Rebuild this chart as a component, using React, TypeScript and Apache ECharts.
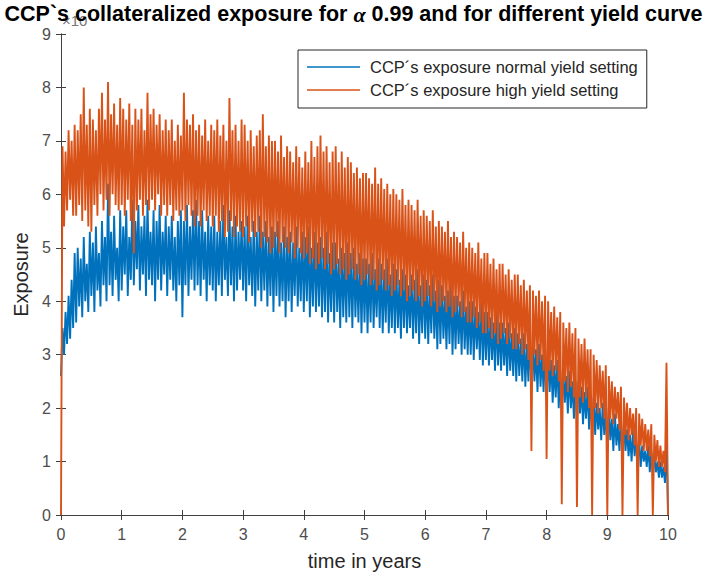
import React, { useEffect, useRef } from "react";
import * as echarts from "echarts";

// Sampling step of the simulation grid (years)
const timeStep = 0.025;

// CCP's exposure, normal yield setting (values shown in units of the ×10 exponent)
const normalExposure = [
  2.6, 3.5, 3.0, 3.8, 3.2, 4.1, 3.3, 4.4, 3.5, 4.9,
  3.6, 5.0, 3.9, 4.8, 3.7, 5.2, 4.0, 4.7, 3.8, 5.3,
  4.1, 5.1, 3.8, 5.4, 4.2, 4.9, 3.9, 5.5, 4.3, 5.2,
  4.0, 6.2, 4.3, 5.3, 4.1, 5.6, 4.4, 5.0, 4.0, 5.7,
  4.2, 5.4, 4.5, 5.7, 4.1, 5.2, 4.4, 5.9, 4.3, 5.5,
  4.6, 5.8, 4.2, 5.4, 4.5, 5.6, 4.1, 5.9, 4.4, 5.3,
  4.3, 5.7, 4.0, 5.5, 4.4, 5.8, 4.2, 5.3, 4.5, 5.6,
  4.1, 5.4, 4.4, 5.6, 4.2, 5.2, 4.0, 5.5, 4.3, 5.7,
  3.7, 5.5, 4.3, 5.8, 4.1, 5.4, 4.4, 5.7, 4.2, 5.9,
  4.3, 5.5, 4.1, 5.7, 4.4, 5.3, 4.0, 5.6, 4.3, 5.4,
  4.2, 5.6, 4.0, 5.3, 4.3, 5.5, 4.1, 5.8, 4.4, 5.2,
  4.1, 5.7, 4.3, 5.4, 4.0, 5.6, 4.2, 5.3, 4.4, 5.5,
  4.2, 5.4, 4.0, 5.6, 4.3, 5.2, 4.1, 5.5, 3.9, 5.3,
  4.2, 5.6, 4.0, 5.3, 4.2, 5.5, 3.9, 5.2, 4.1, 5.4,
  3.8, 5.3, 4.1, 5.5, 3.9, 5.1, 4.0, 5.4, 3.7, 5.2,
  4.0, 5.3, 3.8, 5.1, 4.1, 5.4, 3.9, 5.0, 4.0, 5.3,
  3.8, 5.2, 4.0, 5.4, 3.7, 5.0, 3.9, 5.3, 3.8, 5.1,
  3.9, 5.2, 3.7, 5.0, 3.8, 5.3, 3.6, 4.9, 3.8, 5.1,
  3.6, 5.1, 3.8, 4.8, 3.5, 5.0, 3.7, 4.9, 3.6, 5.1,
  3.7, 4.9, 3.5, 5.0, 3.7, 4.7, 3.6, 4.9, 3.4, 4.8,
  3.6, 4.8, 3.4, 4.7, 3.6, 4.9, 3.5, 4.6, 3.7, 4.8,
  3.5, 4.7, 3.4, 4.6, 3.6, 4.8, 3.4, 4.5, 3.5, 4.7,
  3.4, 4.6, 3.5, 4.4, 3.3, 4.6, 3.5, 4.5, 3.4, 4.3,
  3.5, 4.5, 3.3, 4.4, 3.4, 4.6, 3.2, 4.3, 3.4, 4.5,
  3.3, 4.4, 3.2, 4.3, 3.4, 4.5, 3.3, 4.2, 3.1, 4.4,
  3.2, 4.3, 3.3, 4.1, 3.1, 4.2, 3.2, 4.4, 3.0, 4.1,
  3.1, 4.1, 3.2, 4.0, 3.0, 4.2, 3.1, 3.9, 3.0, 4.0,
  3.0, 4.0, 2.9, 3.9, 3.1, 3.8, 2.9, 4.0, 2.8, 3.8,
  2.9, 3.8, 2.8, 3.7, 2.9, 3.6, 2.7, 3.8, 2.8, 3.6,
  2.7, 3.6, 2.8, 3.5, 2.6, 3.6, 2.7, 3.4, 2.6, 3.5,
  2.5, 3.4, 2.6, 3.3, 2.5, 3.4, 2.4, 3.2, 2.5, 3.3,
  2.4, 3.2, 2.5, 3.1, 2.3, 3.2, 2.4, 3.0, 2.3, 3.1,
  2.2, 3.0, 2.3, 2.9, 2.1, 2.8, 2.2, 2.9, 2.0, 2.7,
  2.0, 2.7, 2.1, 2.6, 1.9, 2.7, 2.0, 2.5, 1.8, 2.5,
  1.8, 2.5, 1.9, 2.4, 1.7, 2.3, 1.8, 2.4, 1.6, 2.2,
  1.6, 2.2, 1.5, 2.1, 1.6, 2.0, 1.4, 2.1, 1.5, 1.9,
  1.3, 2.0, 1.4, 1.8, 1.2, 1.9, 1.3, 1.7, 1.2, 1.8,
  1.1, 1.7, 1.2, 1.6, 1.1, 1.5, 1.0, 1.6, 1.1, 1.4,
  1.0, 1.4, 0.9, 1.3, 1.0, 1.2, 0.9, 1.3, 0.8, 1.2,
  0.8, 1.1, 0.8, 1.0, 0.7, 1.0, 0.7, 0.9, 0.6, 1.4,
  0.0,
];

// CCP's exposure, high yield setting
const highExposure = [
  0.0, 6.9, 5.4, 6.8, 5.7, 7.2, 5.9, 7.0, 5.6, 7.3,
  5.6, 7.2, 5.8, 7.5, 5.5, 8.0, 5.7, 7.3, 5.4, 7.6,
  5.3, 7.4, 5.8, 7.2, 5.6, 7.6, 6.0, 7.9, 5.7, 7.4,
  5.9, 8.1, 5.6, 7.5, 6.0, 7.7, 5.8, 7.3, 5.7, 7.8,
  5.8, 7.6, 5.6, 7.4, 5.9, 7.7, 5.5, 7.3, 4.9, 7.6,
  5.7, 7.4, 5.9, 7.6, 5.6, 7.2, 5.8, 7.9, 5.7, 7.5,
  5.9, 7.6, 5.7, 7.3, 6.0, 7.5, 5.6, 7.2, 5.8, 7.4,
  5.6, 7.2, 5.8, 7.4, 5.5, 7.0, 5.7, 7.3, 5.6, 7.1,
  5.7, 7.9, 5.5, 7.4, 5.8, 7.3, 5.6, 7.5, 5.4, 7.2,
  5.6, 7.3, 5.4, 7.1, 5.7, 7.4, 5.5, 7.0, 5.6, 7.3,
  5.4, 7.2, 5.6, 7.4, 5.3, 7.1, 5.5, 7.3, 5.2, 7.0,
  5.3, 7.8, 5.5, 7.2, 5.2, 7.3, 5.4, 7.0, 5.3, 7.4,
  5.2, 7.3, 5.4, 7.0, 5.1, 7.2, 5.3, 6.9, 5.2, 7.1,
  5.3, 7.2, 5.0, 7.5, 5.2, 6.9, 5.1, 7.1, 4.9, 7.0,
  5.0, 7.0, 5.2, 6.8, 4.9, 7.1, 5.1, 6.7, 5.0, 6.9,
  4.9, 6.8, 5.1, 6.6, 4.8, 6.9, 5.0, 6.7, 4.9, 6.5,
  4.8, 6.8, 4.9, 6.6, 4.7, 7.0, 4.8, 6.7, 4.6, 6.9,
  4.7, 7.1, 4.8, 6.8, 4.6, 6.9, 4.7, 6.6, 4.5, 6.8,
  4.6, 6.9, 4.7, 6.6, 4.5, 6.8, 4.6, 6.5, 4.4, 6.7,
  4.5, 6.6, 4.6, 6.4, 4.4, 6.5, 4.5, 6.3, 4.3, 6.4,
  4.4, 6.4, 4.5, 6.3, 4.3, 6.2, 4.4, 6.5, 4.2, 6.2,
  4.3, 6.3, 4.4, 6.1, 4.2, 6.2, 4.3, 6.0, 4.1, 6.1,
  4.2, 6.0, 4.3, 5.9, 4.1, 6.1, 4.2, 5.8, 4.0, 5.9,
  4.1, 5.8, 4.2, 5.7, 4.0, 5.9, 4.1, 5.6, 3.9, 5.7,
  4.0, 5.6, 4.1, 5.5, 3.9, 5.7, 4.0, 5.4, 3.8, 5.5,
  3.9, 5.4, 4.0, 5.3, 3.8, 5.5, 3.9, 5.2, 3.7, 5.3,
  3.8, 5.2, 3.9, 5.1, 3.7, 5.3, 3.8, 5.0, 3.6, 5.1,
  3.6, 5.0, 3.7, 4.9, 3.5, 5.1, 3.6, 4.8, 3.4, 4.9,
  3.4, 4.9, 3.5, 4.7, 3.3, 4.8, 3.4, 4.6, 3.2, 4.7,
  3.3, 4.7, 3.4, 4.5, 3.2, 4.6, 3.3, 4.4, 3.1, 4.5,
  3.1, 4.5, 3.2, 4.3, 3.0, 4.4, 3.1, 4.2, 2.9, 4.3,
  1.2, 4.2, 3.0, 4.1, 2.8, 4.2, 2.9, 4.0, 2.7, 4.1,
  1.05, 4.0, 2.7, 3.8, 2.6, 3.9, 2.7, 3.7, 2.5, 3.8,
  0.2, 3.6, 2.5, 3.5, 2.3, 3.6, 2.4, 3.4, 2.2, 3.5,
  0.15, 3.3, 2.2, 3.2, 2.1, 3.3, 2.2, 3.1, 2.0, 3.1,
  0.0, 3.0, 2.0, 2.9, 1.9, 2.8, 2.0, 2.7, 1.8, 2.8,
  0.0, 2.6, 1.8, 2.5, 1.7, 2.4, 1.8, 2.3, 1.6, 2.4,
  0.0, 2.2, 1.5, 2.1, 1.4, 2.0, 1.5, 1.9, 1.3, 2.0,
  0.0, 1.9, 1.3, 1.8, 1.2, 1.7, 1.2, 1.6, 1.1, 1.7,
  0.0, 1.5, 1.0, 1.4, 0.9, 1.3, 0.9, 1.2, 0.8, 2.85,
  0.0,
];

const seriesNames = [
  "CCP´s exposure normal yield setting",
  "CCP´s exposure high yield setting",
];
const seriesColors = ["#0072BD", "#D95319"];
const xTicks = [0, 1, 2, 3, 4, 5, 6, 7, 8, 9, 10];
const yTicks = [0, 1, 2, 3, 4, 5, 6, 7, 8, 9];

const toPairs = (vals: number[]) => vals.map((v, i) => [i * timeStep, v]);

export default function App() {
  const ref = useRef<HTMLDivElement>(null);
  useEffect(() => {
    if (!ref.current) return;
    const chart = echarts.init(ref.current, null, { renderer: "svg" });
    const axisColor = "#404040";
    const labelColor = "#4d4d4d";
    const font = "Liberation Sans, Arial, Helvetica, sans-serif";
    const baseAxis = {
      axisLine: { show: true, lineStyle: { color: axisColor, width: 1 } },
      axisTick: { show: true, inside: true, length: 5, lineStyle: { color: axisColor } },
      splitLine: { show: false },
    };
    chart.setOption({
      animation: false,
      backgroundColor: "#ffffff",
      title: {
        text: "{b|CCP`s collateralized exposure for }{a|α}{b| 0.99 and for different yield curve}",
        left: "center",
        top: 3,
        padding: 0,
        textStyle: {
          rich: {
            b: { fontFamily: font, fontWeight: "bold", fontSize: 21.5, color: "#000" },
            a: { fontFamily: "Liberation Serif, serif", fontStyle: "italic", fontSize: 22, color: "#000" },
          },
        },
        z: 10,
      },
      graphic: [
        {
          type: "text",
          left: 62,
          top: 13,
          z: 0,
          style: { text: "×10", fill: "#777", font: `15px ${font}` },
        },
      ],
      legend: {
        orient: "vertical",
        left: 298,
        top: 50,
        padding: [8, 9, 9, 9],
        itemGap: 5,
        itemWidth: 53,
        itemHeight: 18,
        icon: "path://M0,0H53V1.3H0Z",
        backgroundColor: "#ffffff",
        borderColor: "#262626",
        borderWidth: 1,
        borderRadius: 0,
        textStyle: { fontFamily: font, fontSize: 16.5, lineHeight: 18, color: "#262626", padding: [0, 0, 0, 5] },
        data: seriesNames,
      },
      grid: { left: 61, right: 39, top: 34, bottom: 63, containLabel: false },
      xAxis: [
        {
          ...baseAxis,
          type: "value",
          min: xTicks[0],
          max: xTicks[xTicks.length - 1],
          interval: 1,
          position: "bottom",
          name: "time in years",
          nameLocation: "middle",
          nameGap: 36,
          nameTextStyle: { fontFamily: font, fontSize: 20, color: "#262626" },
          axisLabel: { fontFamily: font, fontSize: 16, color: labelColor, margin: 11 },
        },
        {
          ...baseAxis,
          type: "value",
          min: xTicks[0],
          max: xTicks[xTicks.length - 1],
          interval: 1,
          position: "top",
          axisLabel: { show: false },
        },
      ],
      yAxis: [
        {
          ...baseAxis,
          type: "value",
          min: yTicks[0],
          max: yTicks[yTicks.length - 1],
          interval: 1,
          position: "left",
          name: "Exposure",
          nameLocation: "middle",
          nameGap: 29,
          nameTextStyle: { fontFamily: font, fontSize: 20, color: "#262626" },
          axisLabel: { fontFamily: font, fontSize: 16, color: labelColor, margin: 10 },
        },
        {
          ...baseAxis,
          type: "value",
          min: yTicks[0],
          max: yTicks[yTicks.length - 1],
          interval: 1,
          position: "right",
          axisLabel: { show: false },
        },
      ],
      series: [
        {
          name: seriesNames[0],
          type: "line",
          data: toPairs(normalExposure),
          showSymbol: false,
          symbol: "none",
          lineStyle: { color: seriesColors[0], width: 1.9 },
          itemStyle: { color: seriesColors[0] },
          z: 2,
        },
        {
          name: seriesNames[1],
          type: "line",
          data: toPairs(highExposure),
          showSymbol: false,
          symbol: "none",
          lineStyle: { color: seriesColors[1], width: 1.9 },
          itemStyle: { color: seriesColors[1] },
          z: 3,
        },
      ],
    });
    return () => chart.dispose();
  }, []);
  return (
    <div
      ref={ref}
      style={{ position: "fixed", left: 0, top: 0, width: 707, height: 578, background: "#fff" }}
    />
  );
}
